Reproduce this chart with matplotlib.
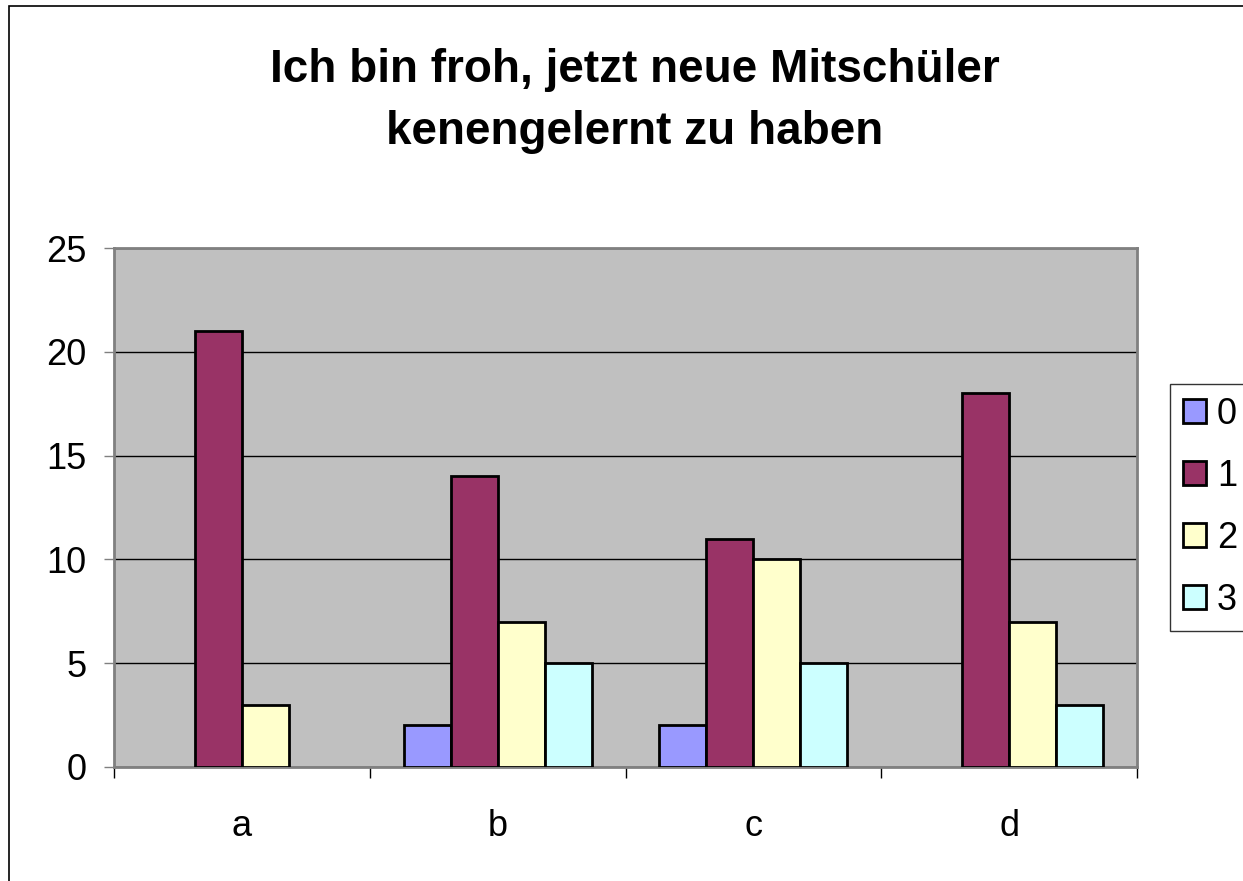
import numpy as np
import matplotlib
matplotlib.use("Agg")
import matplotlib.pyplot as plt
from matplotlib.patches import Patch, Rectangle

plt.rcParams['font.family'] = ['Liberation Sans', 'DejaVu Sans']

# data
categories = ['a', 'b', 'c', 'd']
series_names = ['0', '1', '2', '3']
values_0 = [0, 2, 2, 0]
values_1 = [21, 14, 11, 18]
values_2 = [3, 7, 10, 7]
values_3 = [0, 5, 5, 3]
colors = ['#9999FF', '#993366', '#FFFFCC', '#CCFFFF']

series = [values_0, values_1, values_2, values_3]

fig = plt.figure(figsize=(12.43, 8.81), dpi=100)
ax = fig.add_axes([114 / 1243, 1 - 767 / 881, 1023 / 1243, 519 / 881])
ax.set_facecolor('#C0C0C0')

x = np.arange(len(categories))
width = 0.184
for i, vals in enumerate(series):
    offs = (i - 1.5) * width
    bars = ax.bar(x + offs, vals, width, color=colors[i], edgecolor='black',
                  linewidth=2, zorder=3)
    for b, v in zip(bars, vals):
        if v == 0:
            b.set_visible(False)

ax.set_xlim(-0.5, 3.5)
ax.set_ylim(0, 25)
ax.set_yticks([0, 5, 10, 15, 20, 25])
ax.yaxis.grid(True, color='black', linewidth=1, zorder=1)
ax.set_axisbelow(True)

ax.set_xticks(x)
ax.set_xticklabels(categories)
ax.set_xticks(np.arange(-0.5, 4.0, 1.0), minor=True)
ax.tick_params(axis='x', which='major', length=0, pad=30, labelsize=26)
ax.tick_params(axis='x', which='minor', length=8, width=1, color='black', direction='out')
ax.tick_params(axis='y', length=7, width=1, color='#808080', pad=13, labelsize=26)

for s in ax.spines.values():
    s.set_color('#808080')
    s.set_linewidth(2)

fig.text(635 / 1243, 1 - 101 / 881,
         'Ich bin froh, jetzt neue Mitschüler\nkenengelernt zu haben',
         ha='center', va='center', fontsize=33, fontweight='bold', linespacing=1.5)

handles = [Patch(facecolor=c, edgecolor='black', linewidth=2) for c in colors]
leg = fig.legend(handles, series_names, loc='upper left',
                 bbox_to_anchor=(1170 / 1243, 1 - 384 / 881),
                 fontsize=26, frameon=True, fancybox=False, edgecolor='black',
                 handlelength=0.65, handleheight=0.65, handletextpad=0.3,
                 labelspacing=0.75, borderpad=0.35, borderaxespad=0)
leg.get_frame().set_linewidth(1)

# outer chart border
fig.patches.append(Rectangle((9 / 1243, -0.01), 1.1, 1 - 6 / 881 + 0.01,
                             transform=fig.transFigure, fill=False,
                             edgecolor='black', linewidth=1.2))

fig.savefig('out.png', dpi=100)
